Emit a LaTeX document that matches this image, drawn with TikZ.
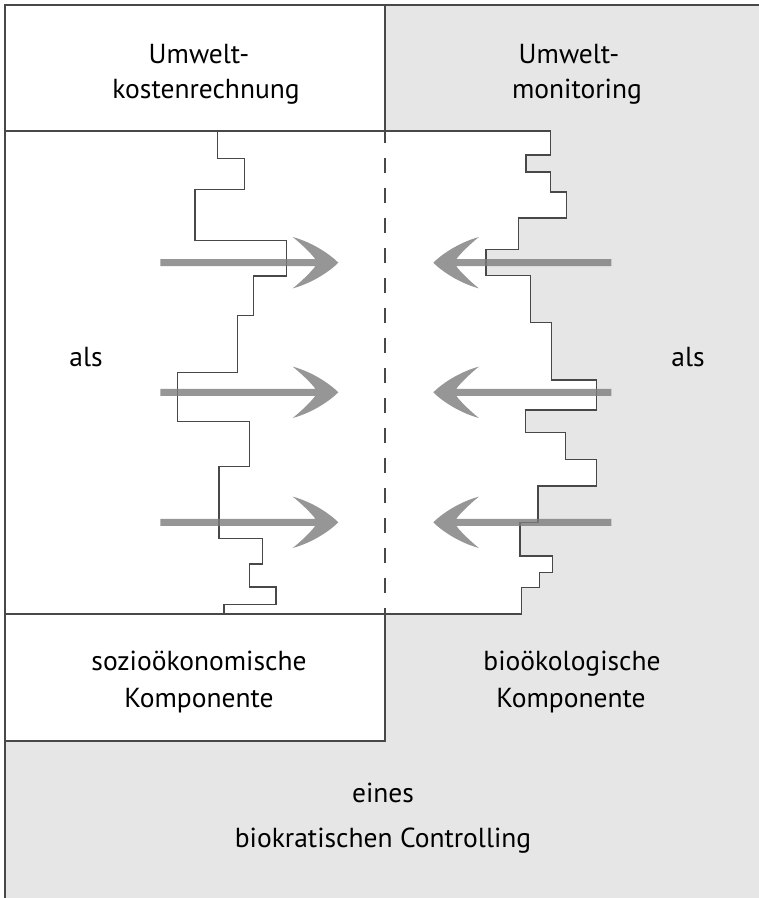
\documentclass[tikz,border=0pt]{standalone}
\usepackage{fontspec}
\setmainfont{PT Sans}
\definecolor{bggrey}{RGB}{230,230,230}
\definecolor{linegrey}{RGB}{72,72,72}
\definecolor{arrowgrey}{RGB}{124,124,124}
\tikzset{
  frame/.style={draw=linegrey, line width=1.1pt},
  stepline/.style={draw=linegrey, line width=1.1pt, line join=miter},
  midline/.style={draw=linegrey, line width=1.1pt, dash pattern=on 15pt off 15pt, dash phase=3pt},
  lbl/.style={anchor=base, inner sep=0pt, font=\fontsize{27.5}{33}\selectfont},
  fatarrow/.pic={
    \fill[arrowgrey, opacity=0.8] (-178,-3.5) -- (-23,-3.5)
      .. controls (-26,-8) and (-36,-18) .. (-45.6,-25.7)
      .. controls (-25,-20) and (-8,-8) .. (0,0)
      .. controls (-8,8) and (-25,20) .. (-45.6,25.7)
      .. controls (-36,18) and (-26,8) .. (-23,3.5)
      -- (-178,3.5) -- cycle;
  }
}
\begin{document}
\begin{tikzpicture}[x=1pt,y=-1pt]
\useasboundingbox (0,0) rectangle (759,898);
% background
\fill[bggrey] (5,5) rectangle (759,898);
\fill[white] (5,5) rectangle (385,131);
\fill[white] (5,614) rectangle (385,741);
\fill[white] (5,131) -- (550.7,131) -- (550.7,155) -- (526,155) -- (526,172) -- (550.7,172)
  -- (550.7,192) -- (566.7,192) -- (566.7,218) -- (518.7,218) -- (518.7,249.7) -- (486,249.7)
  -- (486,275.3) -- (530.7,275.3) -- (530.7,322.7) -- (551.3,322.7) -- (551.3,380) -- (596.7,380)
  -- (596.7,410) -- (525.7,410) -- (525.7,432.7) -- (565.3,432.7) -- (565.3,459.7) -- (596.7,459.7)
  -- (596.7,486) -- (538,486) -- (538,522.3) -- (520,522.3) -- (520,556) -- (552.7,556)
  -- (552.7,572.7) -- (539.3,572.7) -- (539.3,587.7) -- (521.7,587.7) -- (521.7,614) -- (5,614) -- cycle;

% frame lines
\draw[frame] (5,898) -- (5,5) -- (759,5);
\draw[frame] (385,5) -- (385,131);
\draw[frame] (5,131) -- (550.7,131);
\draw[frame] (5,614) -- (521.7,614);
\draw[frame] (385,614) -- (385,741) -- (5,741);
\draw[midline] (385,131) -- (385,614);

% left step line
\draw[stepline] (217.7,131) -- (217.7,158.3) -- (244.7,158.3) -- (244.7,189.3) -- (195,189.3)
  -- (195,240.3) -- (286.7,240.3) -- (286.7,276) -- (253.3,276) -- (253.3,315.7) -- (237.3,315.7)
  -- (237.3,372.3) -- (177.3,372.3) -- (177.3,421.3) -- (249.3,421.3) -- (249.3,466.3) -- (219,466.3)
  -- (219,538.7) -- (262.3,538.7) -- (262.3,564) -- (249.3,564) -- (249.3,587) -- (276,587)
  -- (276,604.3) -- (224,604.3) -- (224,614);

% right step line
\draw[stepline] (550.7,131) -- (550.7,155) -- (526,155) -- (526,172) -- (550.7,172)
  -- (550.7,192) -- (566.7,192) -- (566.7,218) -- (518.7,218) -- (518.7,249.7) -- (486,249.7)
  -- (486,275.3) -- (530.7,275.3) -- (530.7,322.7) -- (551.3,322.7) -- (551.3,380) -- (596.7,380)
  -- (596.7,410) -- (525.7,410) -- (525.7,432.7) -- (565.3,432.7) -- (565.3,459.7) -- (596.7,459.7)
  -- (596.7,486) -- (538,486) -- (538,522.3) -- (520,522.3) -- (520,556) -- (552.7,556)
  -- (552.7,572.7) -- (539.3,572.7) -- (539.3,587.7) -- (521.7,587.7) -- (521.7,614);

% arrows
\pic at (338.3,262.7) {fatarrow};
\pic at (338.3,392.3) {fatarrow};
\pic at (338.3,522.3) {fatarrow};
\pic[xscale=-1] at (433.3,262.7) {fatarrow};
\pic[xscale=-1] at (433.3,392.3) {fatarrow};
\pic[xscale=-1] at (433.3,522.3) {fatarrow};

% labels
\node[lbl] (ukr1) at (199,63) {Umwelt-};
\node[lbl] (ukr2) at (206,98) {kostenrechnung};
\node[lbl] (umo1) at (569,63) {Umwelt-};
\node[lbl] (umo2) at (577,98) {monitoring};
\node[lbl] (alsl) at (86,366) {als};
\node[lbl] (alsr) at (688,366) {als};
\node[lbl] (soz1) at (199,670) {sozioökonomische};
\node[lbl] (soz2) at (199,707) {Komponente};
\node[lbl] (bio1) at (572,670) {bioökologische};
\node[lbl] (bio2) at (571,707) {Komponente};
\node[lbl] (ein1) at (383,802) {eines};
\node[lbl] (ein2) at (383,847) {biokratischen Controlling};
\end{tikzpicture}
\end{document}
